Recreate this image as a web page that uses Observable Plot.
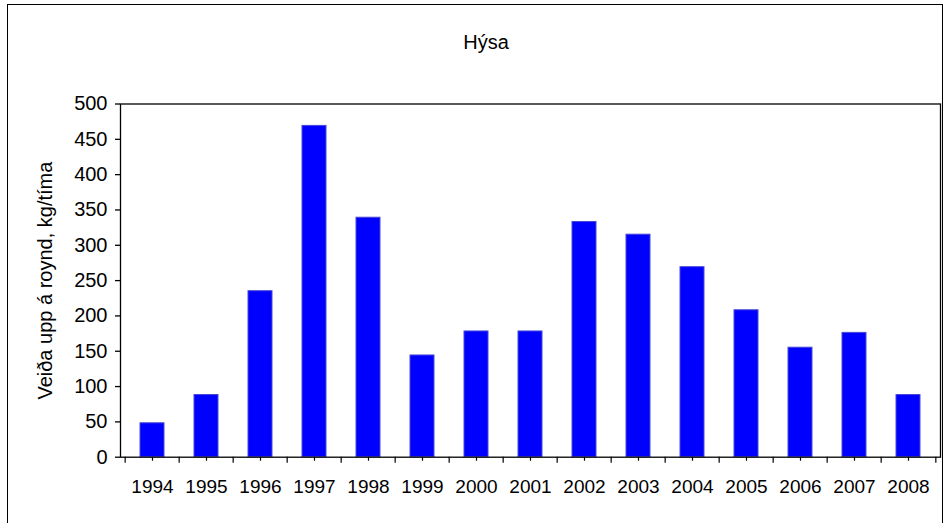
<!DOCTYPE html>
<html><head><meta charset="utf-8">
<script src="https://cdn.jsdelivr.net/npm/d3@7"></script>
<script src="https://cdn.jsdelivr.net/npm/@observablehq/plot@0.6"></script>
<style>
body{margin:0;background:#fff;}
#wrap{position:relative;width:947px;height:523px;overflow:hidden;background:#fff;}
#wrap svg{display:block;}
#border{position:absolute;left:7px;top:4px;width:936px;height:540px;border:1.5px solid #000;box-sizing:border-box;pointer-events:none;}
</style></head><body><div id="wrap"><div id="border"></div></div>
<script>
const title = "Hýsa";
const yLabel = "Veiða upp á roynd, kg/tíma";
const years = ["1994","1995","1996","1997","1998","1999","2000","2001","2002","2003","2004","2005","2006","2007","2008"];
const catchRate = [48, 88, 235, 469, 339, 144, 178, 178, 333, 315, 269, 208, 155, 176, 88];
const yTicks = [0, 50, 100, 150, 200, 250, 300, 350, 400, 450, 500];

const W = 947, H = 523, mL = 120, mR = 7, mT = 103.5, mB = 66.3;
const step = (W - mL - mR) / years.length;
const data = years.map((y, i) => ({year: y, value: catchRate[i]}));
const font = "'Liberation Sans', Arial, Helvetica, sans-serif";

const chart = Plot.plot({
  width: W, height: H,
  marginLeft: mL, marginRight: mR, marginTop: mT, marginBottom: mB,
  style: {fontFamily: font, fontSize: "20px", color: "#000", background: "transparent"},
  x: {type: "band", domain: years, paddingInner: 0.556, paddingOuter: 0.278, axis: null},
  y: {domain: [0, 500], axis: null},
  marks: [
    Plot.barY(data, {x: "year", y: "value", fill: "#0000ff", stroke: "#4848d8", strokeWidth: 1}),
    Plot.frame({stroke: "#000", strokeWidth: 1.3}),
    Plot.axisY({ticks: yTicks, tickSize: 5, tickPadding: 8, fontSize: 20, label: null, strokeWidth: 1.3}),
    Plot.axisX({tickSize: 4, tickPadding: 18, fontSize: 19, label: null, strokeWidth: 1.2}),
    Plot.axisX({tickSize: 6, text: null, dx: -step / 2, label: null, strokeWidth: 1.2}),
    Plot.axisX({ticks: [years[years.length - 1]], tickSize: 6, text: null, dx: step / 2, label: null, strokeWidth: 1.2}),
    Plot.text([yLabel], {frameAnchor: "left", textAnchor: "middle", rotate: -90, dx: -75, fontSize: 20, fill: "#000"}),
    Plot.text([title], {frameAnchor: "top", textAnchor: "middle", dy: -69, dx: -44.5, fontSize: 20, fill: "#000"})
  ]
});
document.getElementById("wrap").prepend(chart);
</script>
</body></html>
